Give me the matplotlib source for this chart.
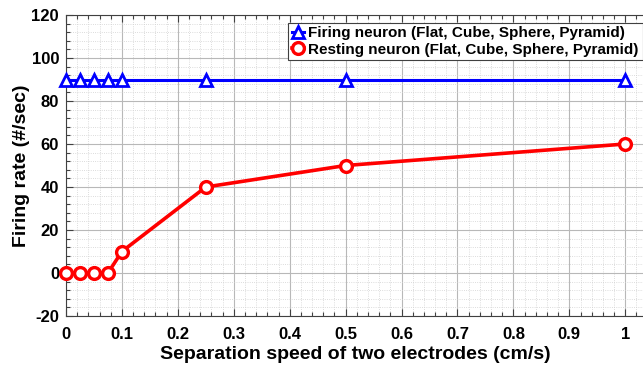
import matplotlib
matplotlib.use("Agg")
import matplotlib.pyplot as plt
from matplotlib.ticker import MultipleLocator

speed = [0, 0.025, 0.05, 0.075, 0.1, 0.25, 0.5, 1.0]
firing = [90, 90, 90, 90, 90, 90, 90, 90]
resting = [0, 0, 0, 0, 10, 40, 50, 60]
xtick_vals = [0, 0.1, 0.2, 0.3, 0.4, 0.5, 0.6, 0.7, 0.8, 0.9, 1.0]
xtick_labels = ['0', '0.1', '0.2', '0.3', '0.4', '0.5', '0.6', '0.7', '0.8', '0.9', '1']
label_firing = "Firing neuron (Flat, Cube, Sphere, Pyramid)"
label_resting = "Resting neuron (Flat, Cube, Sphere, Pyramid)"

plt.rcParams['font.family'] = ['Liberation Sans', 'DejaVu Sans']
plt.rcParams['font.weight'] = 'bold'
plt.rcParams['axes.unicode_minus'] = False

fig = plt.figure(figsize=(6.43, 3.66), dpi=100)
ax = fig.add_axes([66/643, 50/366, 1 - 66/643 + 0.002, 301/366])

ax.plot(speed, firing, color='#0000FF', lw=2.2, marker='^', ms=8.5,
        mfc='white', mec='#0000FF', mew=2, label=label_firing, zorder=3,
        clip_on=False)
ax.plot(speed, resting, color='#FF0000', lw=2.6, marker='o', ms=8.5,
        mfc='white', mec='#FF0000', mew=2.4, label=label_resting, zorder=3,
        clip_on=False)

ax.set_xlim(0, (643 - 66) / 558)
ax.set_ylim(-20, 120)
ax.xaxis.set_minor_locator(MultipleLocator(0.02))
ax.yaxis.set_major_locator(MultipleLocator(20))
ax.yaxis.set_minor_locator(MultipleLocator(4))
ax.set_xticks(xtick_vals)
ax.set_xticklabels(xtick_labels)

ax.grid(which='major', color='#b8b8b8', lw=0.8, ls='-')
ax.grid(which='minor', color='#d0d0d0', lw=0.6, ls=':')
ax.set_axisbelow(True)

ax.tick_params(which='both', direction='in', top=True, right=False,
               labelsize=12, width=0.8, color='#404040')
ax.tick_params(which='major', length=5)
ax.tick_params(which='minor', length=3)
ax.tick_params(axis='x', which='major', pad=8)
ax.tick_params(axis='y', which='major', pad=5)
for lab in ax.get_xticklabels() + ax.get_yticklabels():
    lab.set_fontweight('bold')
for s in ['left', 'bottom', 'top']:
    ax.spines[s].set_color('#404040')
    ax.spines[s].set_linewidth(0.8)
ax.spines['right'].set_visible(False)

ax.set_xlabel("Separation speed of two electrodes (cm/s)", fontsize=14, fontweight='bold', labelpad=3)
ax.set_ylabel("Firing rate (#/sec)", fontsize=14, fontweight='bold', labelpad=1)

leg = ax.legend(loc='upper right', bbox_to_anchor=(0.997, 0.975), fontsize=11,
                handlelength=0.8, handletextpad=0.3, borderpad=0.25,
                labelspacing=0.15, fancybox=False, framealpha=1,
                edgecolor='#404040', borderaxespad=0)
leg.get_frame().set_linewidth(0.8)
for t in leg.get_texts():
    t.set_fontweight('bold')

fig.savefig("out.png", dpi=100)
